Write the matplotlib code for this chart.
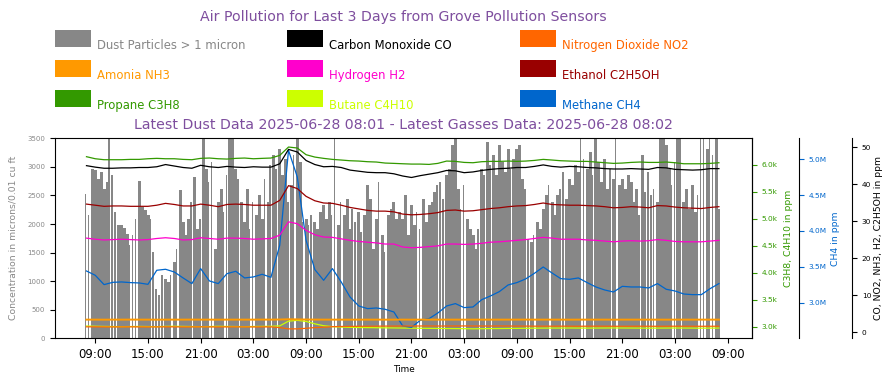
import numpy as np
import pandas as pd
import matplotlib
matplotlib.use('Agg')
import matplotlib.pyplot as plt
import matplotlib.dates as mdates
from matplotlib.ticker import FuncFormatter, MultipleLocator
from matplotlib.patches import Rectangle

# ---------------- data ----------------
gas_start = '2025-06-25 08:00'   # hourly gas samples
dust_start = '2025-06-25 08:00'  # 20-minute dust samples

co = [45.0, 44.6, 44.3, 44.3, 44.4, 44.4, 44.5, 44.5, 44.7, 45.3, 44.9, 44.5, 44.3, 45.1, 44.7, 44.5,
      44.8, 44.6, 44.5, 44.7, 44.6, 44.6, 45.5, 49.4, 48.7, 46.4, 45.3, 44.7, 44.8, 44.5, 43.8, 43.5,
      43.2, 43.1, 43.1, 42.8, 42.2, 41.8, 42.3, 42.7, 43.1, 43.7, 43.6, 43.1, 43.3, 43.7, 44.0, 44.2,
      44.3, 44.5, 44.5, 44.8, 45.2, 44.8, 44.6, 44.8, 44.7, 44.5, 44.4, 44.2, 44.1, 44.1, 44.2, 44.1,
      44.0, 44.5, 44.4, 44.0, 43.9, 43.8, 43.9, 44.2, 44.2]
ethanol = [34.6, 34.3, 34.0, 34.1, 34.1, 34.0, 34.0, 34.0, 34.3, 34.8, 34.5, 34.1, 34.1, 34.6, 34.3, 33.9,
           34.5, 34.6, 34.5, 34.3, 34.3, 34.3, 35.6, 39.6, 38.8, 36.7, 35.5, 34.9, 34.8, 34.3, 33.7, 33.3,
           32.9, 32.7, 32.7, 32.5, 31.9, 31.7, 31.8, 32.0, 32.3, 32.9, 33.0, 32.7, 32.8, 33.1, 33.4, 33.6,
           33.9, 34.1, 34.2, 34.5, 34.9, 34.5, 34.4, 34.3, 34.3, 34.2, 34.1, 33.9, 33.6, 33.7, 33.9, 33.8,
           33.6, 34.2, 34.1, 33.8, 33.6, 33.5, 33.4, 33.7, 33.9]
hydrogen = [25.4, 25.1, 24.9, 25.0, 25.1, 25.0, 24.9, 25.0, 25.3, 25.5, 25.3, 24.9, 25.0, 25.5, 25.3, 25.1,
            25.4, 25.4, 25.3, 25.1, 25.2, 25.3, 26.2, 29.8, 29.3, 27.5, 26.3, 25.7, 25.6, 25.2, 24.8, 24.5,
            24.3, 24.1, 23.8, 23.8, 23.0, 22.8, 22.9, 23.1, 23.3, 23.8, 23.8, 23.7, 23.8, 24.0, 24.3, 24.4,
            24.6, 24.8, 25.0, 25.3, 25.6, 25.4, 25.1, 25.1, 25.1, 24.9, 24.8, 24.6, 24.4, 24.6, 24.7, 24.6,
            24.7, 25.0, 24.8, 24.5, 24.4, 24.4, 24.4, 24.6, 24.8]
ammonia = [3.35, 3.35, 3.34, 3.35, 3.35, 3.36, 3.35, 3.35, 3.34, 3.35, 3.35, 3.35, 3.36, 3.35, 3.35, 3.34,
           3.35, 3.35, 3.35, 3.35, 3.36, 3.35, 3.38, 3.45, 3.42, 3.38, 3.36, 3.35, 3.35, 3.35, 3.34, 3.35,
           3.35, 3.35, 3.34, 3.35, 3.35, 3.34, 3.35, 3.35, 3.35, 3.35, 3.35, 3.34, 3.35, 3.35, 3.35, 3.35,
           3.35, 3.35, 3.36, 3.35, 3.35, 3.35, 3.35, 3.34, 3.35, 3.35, 3.35, 3.35, 3.34, 3.35, 3.35, 3.35,
           3.35, 3.35, 3.34, 3.35, 3.35, 3.35, 3.35, 3.35, 3.35]
no2 = [1.40, 1.40, 1.38, 1.37, 1.38, 1.40, 1.38, 1.37, 1.38, 1.40, 1.39, 1.37, 1.38, 1.40, 1.38, 1.37,
       1.38, 1.39, 1.38, 1.37, 1.38, 1.38, 1.20, 0.85, 0.85, 1.00, 1.20, 1.30, 1.45, 1.50, 1.52, 1.55,
       1.56, 1.58, 1.60, 1.60, 1.62, 1.62, 1.63, 1.63, 1.62, 1.62, 1.63, 1.64, 1.63, 1.62, 1.62, 1.63,
       1.62, 1.60, 1.60, 1.58, 1.58, 1.57, 1.58, 1.57, 1.56, 1.57, 1.58, 1.57, 1.56, 1.55, 1.56, 1.57,
       1.56, 1.55, 1.56, 1.57, 1.56, 1.56, 1.55, 1.56, 1.56]
propane = [6149, 6111, 6093, 6093, 6093, 6099, 6099, 6111, 6118, 6111, 6111, 6099, 6093, 6118, 6124, 6111,
           6105, 6118, 6124, 6111, 6118, 6124, 6173, 6328, 6310, 6186, 6142, 6118, 6099, 6087, 6074, 6068,
           6056, 6050, 6031, 6025, 6018, 6012, 6012, 6006, 6025, 6068, 6062, 6043, 6037, 6056, 6062, 6062,
           6068, 6062, 6068, 6080, 6099, 6087, 6074, 6068, 6062, 6062, 6050, 6037, 6025, 6031, 6043, 6050,
           6043, 6043, 6050, 6037, 6018, 6018, 6018, 6025, 6037]
butane = [3010, 3005, 3002, 3000, 2998, 3000, 3002, 3000, 2998, 3003, 3005, 3002, 3000, 2998, 3000, 3004,
          3002, 3000, 2998, 3001, 3003, 3005, 3012, 3100, 3115, 3095, 3050, 3015, 2998, 2990, 2985, 2982,
          2980, 2978, 2976, 2974, 2972, 2970, 2968, 2966, 2965, 2963, 2962, 2960, 2958, 2960, 2962, 2963,
          2965, 2966, 2968, 2970, 2971, 2972, 2972, 2973, 2972, 2971, 2972, 2973, 2974, 2973, 2972, 2971,
          2970, 2971, 2972, 2973, 2972, 2971, 2970, 2971, 2972]
methane_m = [3.442, 3.382, 3.252, 3.284, 3.289, 3.280, 3.275, 3.256, 3.452, 3.466, 3.428, 3.345, 3.266, 3.475,
             3.303, 3.266, 3.405, 3.438, 3.345, 3.359, 3.396, 3.354, 3.800, 5.126, 4.754, 3.870, 3.461, 3.312,
             3.475, 3.289, 3.080, 2.954, 2.917, 2.926, 2.908, 2.870, 2.675, 2.656, 2.754, 2.777, 2.856, 2.954,
             2.987, 2.931, 2.940, 3.042, 3.094, 3.154, 3.247, 3.280, 3.331, 3.410, 3.498, 3.414, 3.335, 3.326,
             3.345, 3.280, 3.219, 3.177, 3.149, 3.228, 3.219, 3.219, 3.205, 3.266, 3.187, 3.163, 3.121, 3.112,
             3.112, 3.196, 3.266]

dust = [2530, 2150, 2970, 2940, 2790, 2910, 2620, 2740, 3700, 2850, 2210, 1990, 1980, 1930, 1830, 1630,
        1800, 2090, 2760, 2300, 2240, 2150, 2090, 1510, 870, 750, 1100, 1040, 990,
        1100, 1340, 1570, 2590, 2040, 1800, 2090, 2390, 2820, 1920, 2090, 3700, 2970, 2740, 3090, 1570,
        2390, 2620, 2210, 2850, 3600, 3600, 2970, 2790, 2390, 2040, 2620, 1920, 2390, 2150, 2500, 2090,
        2790, 2390, 3030, 3200, 2970, 3320, 2850, 3140,
        2390, 2680, 3200, 3700, 3090, 2040, 2090, 1980, 2150, 2040, 1920, 2210, 2330, 2090, 2390, 2150,
        3700, 1980, 2390, 2150, 2440, 1920, 2270, 2040, 2210, 1860, 2150, 2680, 2440, 1570, 2090, 2740,
        1800, 1510, 2150, 2270, 2390, 2090, 2210,
        2090, 2500, 1800, 2330, 1980, 2210, 1920, 2440, 2040, 2330, 2390, 2560, 2680, 2740, 2440, 2850,
        2970, 3380, 3700, 2620, 2270, 2680, 2090, 1920, 1800, 1570, 1920, 2970, 2850, 3440, 3030, 3200,
        2850, 3380, 3090, 2910, 3320, 2970, 3140,
        3320, 3380, 2790, 2620, 1740, 1690, 1800, 2040, 1920, 2270, 2500, 2680, 2390, 2150, 2500, 2620,
        2910, 2440, 2790, 2680, 3030, 2910, 3700, 3140, 2970, 3260, 2850, 3700, 3090, 2740, 3140, 2620,
        2970, 2790, 3700, 2680, 2790, 2620, 2850, 2740,
        2390, 2620, 2150, 3200, 2560, 2910, 2500, 2620, 2390, 3600, 3700, 3380, 2970, 2680, 3090, 3500,
        3700, 2390, 2620, 2270, 2680, 2210, 2500, 3600, 3700, 3320, 3700, 3200, 3500, 2270]
# samples where part of the 20-minute interval had no reading
dust_missing = [0, 1, 8, 9, 10, 15, 16, 17, 22, 23, 24, 25, 26, 29, 31, 36, 39, 42, 43, 47, 48, 52, 56,
                57, 61, 63, 65, 69, 71, 74, 76, 77, 84, 85, 87, 91, 92, 94, 100, 102, 113, 114, 120, 121,
                122, 128, 129, 134, 136, 138, 145, 150, 151, 153, 158, 162, 163, 169, 170, 173, 179, 181,
                189, 191, 192, 193, 194, 200, 201, 203, 209, 210, 211, 213, 214]

legend_labels = ['Dust Particles > 1 micron', 'Carbon Monoxide CO', 'Nitrogen Dioxide NO2',
                 'Amonia NH3', 'Hydrogen H2', 'Ethanol C2H5OH',
                 'Propane C3H8', 'Butane C4H10', 'Methane CH4']
title = 'Air Pollution for Last 3 Days from Grove Pollution Sensors'
subtitle = 'Latest Dust Data 2025-06-28 08:01 - Latest Gasses Data: 2025-06-28 08:02'

# ---------------- style ----------------
C_DUST = '#878787'
C_CO = '#000000'
C_NO2 = '#FF6600'
C_NH3 = '#FF9900'
C_H2 = '#FF00CC'
C_ETH = '#990000'
C_PROP = '#339900'
C_BUT = '#CCFF00'
C_CH4 = '#0066CC'
C_TITLE = '#7E4E9E'
legend_colors = [C_DUST, C_CO, C_NO2, C_NH3, C_H2, C_ETH, C_PROP, C_BUT, C_CH4]

W, H = 896, 385
fig = plt.figure(figsize=(W / 100, H / 100), dpi=100)
ax_l, ax_r, ax_t, ax_b = 55, 752, 138.3, 338.3
ax = fig.add_axes([ax_l / W, 1 - ax_b / H, (ax_r - ax_l) / W, (ax_b - ax_t) / H])

gas_t = mdates.date2num(pd.date_range(gas_start, periods=len(co), freq='h').to_pydatetime())
dust_t = mdates.date2num(pd.date_range(dust_start, periods=len(dust), freq='20min').to_pydatetime())
step = 20 / 1440.0
widths = np.full(len(dust), step * 1.03)
widths[dust_missing] = step * 0.5

ax.bar(dust_t - step / 2, dust, width=widths, align='edge', color=C_DUST, linewidth=0)
ax.set_ylim(0, 3500)
ax.yaxis.set_major_locator(MultipleLocator(500))
ax.tick_params(axis='y', labelsize=5, labelcolor='#888888', colors='#000000')
ax.set_ylabel('Concentration in microns/0.01 cu ft', color='#888888', fontsize=6.7)
ax.yaxis.set_label_coords(-0.054, 0.5)

ax.set_xlim(mdates.date2num(pd.Timestamp('2025-06-25 04:25').to_pydatetime()),
            mdates.date2num(pd.Timestamp('2025-06-28 11:46').to_pydatetime()))
ax.xaxis.set_major_locator(mdates.HourLocator(byhour=[3, 9, 15, 21]))
ax.xaxis.set_major_formatter(mdates.DateFormatter('%H:%M'))
ax.tick_params(axis='x', labelsize=8.5)
ax.set_xlabel('Time', fontsize=6.4)
ax.xaxis.set_label_coords(0.5, -0.136)

# propane / butane axis
axg = ax.twinx()
axg.plot(gas_t, propane, color=C_PROP, lw=0.9)
axg.plot(gas_t, butane, color=C_BUT, lw=0.9)
axg.set_ylim(2782, 6490)
axg.yaxis.set_major_locator(MultipleLocator(500))
axg.yaxis.set_major_formatter(FuncFormatter(lambda v, p: f'{v / 1000:.1f}k'))
axg.tick_params(axis='y', colors=C_PROP, labelsize=5.3)
axg.set_ylabel('C3H8, C4H10 in ppm', color=C_PROP, fontsize=6.7)
axg.yaxis.set_label_coords(1.0452, 0.5)

# methane axis
axm = ax.twinx()
axm.spines['right'].set_position(('axes', 1.0674))
axm.plot(gas_t, methane_m, color=C_CH4, lw=0.9)
axm.set_ylim(2.503, 5.293)
axm.yaxis.set_major_locator(MultipleLocator(0.5))
axm.yaxis.set_major_formatter(FuncFormatter(lambda v, p: f'{v:.1f}M'))
axm.tick_params(axis='y', colors=C_CH4, labelsize=5.3)
axm.set_ylabel('CH4 in ppm', color=C_CH4, fontsize=6.7)
axm.yaxis.set_label_coords(1.114, 0.5)

# other gases axis
axk = ax.twinx()
axk.spines['right'].set_position(('axes', 1.1435))
axk.plot(gas_t, ammonia, color=C_NH3, lw=1.4)
axk.plot(gas_t, no2, color=C_NO2, lw=0.9)
axk.plot(gas_t, hydrogen, color=C_H2, lw=0.9)
axk.plot(gas_t, ethanol, color=C_ETH, lw=0.9)
axk.plot(gas_t, co, color=C_CO, lw=0.9)
axk.set_ylim(-1.7, 52.4)
axk.yaxis.set_major_locator(MultipleLocator(10))
axk.tick_params(axis='y', labelsize=5.3)
axk.set_ylabel('CO, NO2, NH3, H2, C2H5OH in ppm', fontsize=6.7)
axk.yaxis.set_label_coords(1.1757, 0.5)

for a in (axg, axm, axk):
    for s in ('left', 'top', 'bottom'):
        a.spines[s].set_visible(False)

# titles
cx = (ax_l + ax_r) / 2 / W
fig.text(cx, 1 - 17.5 / H, title, ha='center', va='center', fontsize=10.2, color=C_TITLE)
fig.text(cx, 1 - 125 / H, subtitle, ha='center', va='center', fontsize=10.2, color=C_TITLE)

# legend (3 x 3 grid)
col_x = [55, 287, 520]
row_top = [30, 60, 90]
pw, ph = 36, 17
for k, (lab, colr) in enumerate(zip(legend_labels, legend_colors)):
    r, c = divmod(k, 3)
    x0, y0 = col_x[c], row_top[r]
    fig.add_artist(Rectangle((x0 / W, 1 - (y0 + ph) / H), pw / W, ph / H,
                             transform=fig.transFigure, facecolor=colr, edgecolor='none'))
    fig.text((x0 + pw + 6) / W, 1 - (y0 + 18.8) / H, lab, ha='left', va='baseline',
             fontsize=8.4, color=colr)

fig.savefig('out.png', dpi=100)
